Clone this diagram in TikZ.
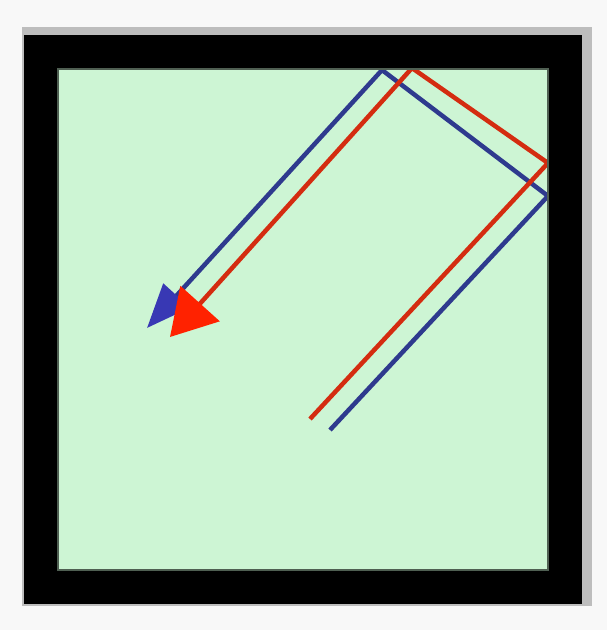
\documentclass[tikz,border=0pt]{standalone}
\usetikzlibrary{arrows.meta}
\definecolor{bgc}{HTML}{F8F8F8}
\definecolor{shadowc}{HTML}{BDBDBD}
\definecolor{greenc}{HTML}{CDF5D4}
\definecolor{edgec}{HTML}{4F5F52}
\definecolor{bluel}{HTML}{2E3A8E}
\definecolor{blueh}{HTML}{3838B4}
\definecolor{redl}{HTML}{D42C10}
\definecolor{redh}{HTML}{FF2200}
\tikzset{
  ray/.style={line width=4.5pt, line join=miter, line cap=butt},
  bluray/.style={ray, draw=bluel, -{Triangle[length=44pt,width=35pt,color=blueh]}},
  redray/.style={ray, draw=redl, -{Triangle[length=45pt,width=52pt,color=redh]}},
}
\begin{document}
\begin{tikzpicture}[x=1pt,y=-1pt]
  \useasboundingbox (0,0) rectangle (607,630);
  \fill[bgc] (0,0) rectangle (607,630);
  % soft shadow
  \fill[shadowc] (22,27) rectangle (592,606);
  % green interior
  \fill[greenc] (41,52) rectangle (564.5,586.5);
  % rays
  \coordinate (bs) at (330,430);
  \coordinate (br) at (548,196);
  \coordinate (bt) at (382,70);
  \coordinate (be) at (147,328);
  \coordinate (rs) at (310,419);
  \coordinate (rr) at (548,163);
  \coordinate (rt) at (412,68);
  \coordinate (re) at (170,337);
  \draw[bluray] (bs) -- (br) -- (bt) -- (be);
  \draw[redray] (rs) -- (rr) -- (rt) -- (re);
  % black frame
  \draw[line width=34pt, black] (41,52) rectangle (564.5,586.5);
  \draw[line width=1.5pt, edgec] (58,69) rectangle (548,570);
\end{tikzpicture}
\end{document}
